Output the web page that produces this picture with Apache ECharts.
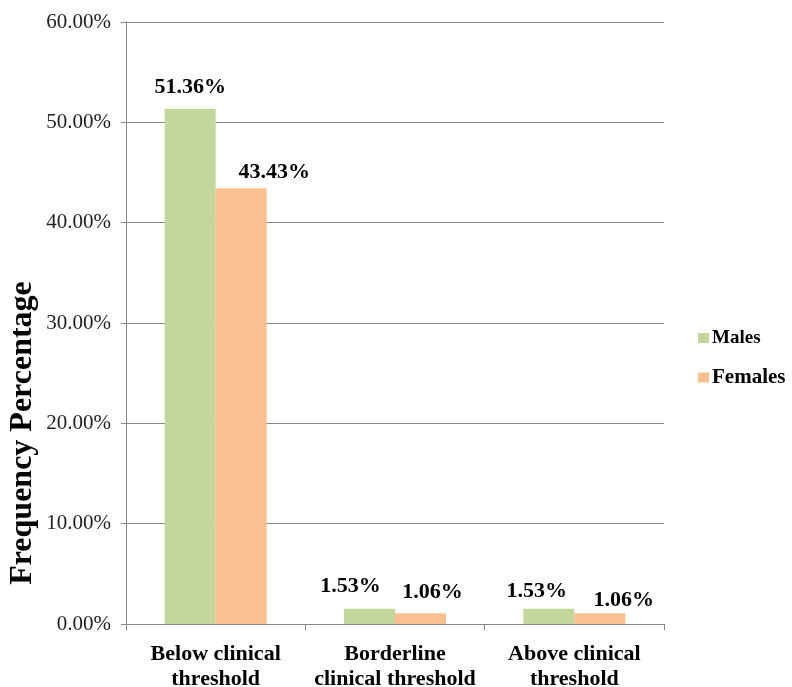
<!DOCTYPE html>
<html>
<head>
<meta charset="utf-8">
<script src="https://cdn.jsdelivr.net/npm/echarts@6/dist/echarts.min.js"></script>
<style>
html,body{margin:0;padding:0;background:#fff;}
#chart{width:792px;height:687px;}
</style>
</head>
<body>
<div id="chart"></div>
<script>
// ---- data ----
const categories = ['Below clinical\nthreshold', 'Borderline\nclinical threshold', 'Above clinical\nthreshold'];
const seriesNames = ['Males', 'Females'];
const males = [51.36, 1.53, 1.53];
const females = [43.43, 1.06, 1.06];
const yTicks = { min: 0, max: 60, interval: 10 };
const yTitle = 'Frequency Percentage';

// ---- styling (label nudges, per point, in px) ----
const maleNudge = [[0, -10], [-19, -11], [-12, -6]];
const femaleNudge = [[33, -5], [12, -10], [24, -2]];

const serif = '"Liberation Serif", "Times New Roman", serif';
const gridColor = '#868686';

function buildData(values, nudges) {
  return values.map((v, i) => ({
    value: v,
    label: { offset: nudges[i] }
  }));
}

const labelStyle = {
  show: true,
  position: 'top',
  distance: 0,
  fontFamily: serif,
  fontWeight: 'bold',
  fontSize: 22,
  lineHeight: 22,
  color: '#000',
  formatter: p => p.value.toFixed(2) + '%'
};

const chart = echarts.init(document.getElementById('chart'), null, { renderer: 'canvas' });
chart.setOption({
  animation: false,
  backgroundColor: '#fff',
  grid: { left: 126, right: 128, top: 22, bottom: 63, containLabel: false, outerBoundsMode: 'none' },
  legend: {
    orient: 'vertical',
    left: 693,
    top: 323,
    itemWidth: 11,
    itemHeight: 10,
    itemGap: 19,
    icon: 'rect',
    textStyle: { fontFamily: serif, fontWeight: 'bold', color: '#000', lineHeight: 20, padding: [0, 0, 0, -2] },
    data: [
      { name: seriesNames[0], textStyle: { fontSize: 19 } },
      { name: seriesNames[1], textStyle: { fontSize: 21 } }
    ]
  },
  xAxis: {
    type: 'category',
    data: categories,
    axisLine: { lineStyle: { color: gridColor, width: 1 } },
    axisTick: { show: true, length: 6, alignWithLabel: false, lineStyle: { color: gridColor } },
    axisLabel: {
      margin: 18,
      fontFamily: serif,
      fontWeight: 'bold',
      fontSize: 22,
      lineHeight: 25,
      color: '#000',
      interval: 0
    }
  },
  yAxis: {
    type: 'value',
    min: yTicks.min,
    max: yTicks.max,
    interval: yTicks.interval,
    axisLine: { show: true, lineStyle: { color: gridColor, width: 1 } },
    axisTick: { show: true, length: 5, lineStyle: { color: gridColor } },
    splitLine: { show: true, lineStyle: { color: gridColor, width: 1 } },
    axisLabel: {
      margin: 15,
      fontFamily: serif,
      fontSize: 21,
      color: '#222',
      formatter: v => v.toFixed(2) + '%'
    }
  },
  graphic: [{
    type: 'text',
    x: 23,
    y: 433,
    rotation: Math.PI / 2,
    style: {
      text: yTitle,
      fontFamily: serif,
      fontWeight: 'bold',
      fontSize: 32,
      fill: '#000',
      align: 'center',
      verticalAlign: 'middle'
    }
  }],
  series: [
    {
      name: seriesNames[0],
      type: 'bar',
      barWidth: 51,
      barGap: '0%',
      itemStyle: { color: '#c3d69b' },
      label: labelStyle,
      data: buildData(males, maleNudge)
    },
    {
      name: seriesNames[1],
      type: 'bar',
      barWidth: 51,
      barGap: '0%',
      itemStyle: { color: '#fac090' },
      label: labelStyle,
      data: buildData(females, femaleNudge)
    }
  ]
});
</script>
</body>
</html>
